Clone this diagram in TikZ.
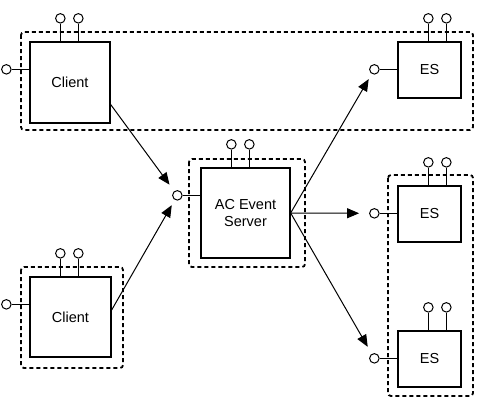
\documentclass[tikz,border=0pt]{standalone}
\usepackage{fontspec}
\setmainfont{Liberation Sans}
\usetikzlibrary{arrows.meta}

\tikzset{
  comp/.style={draw,line width=1.3pt,inner sep=2pt,align=center,
    font=\fontsize{14.5}{17}\selectfont},
  port/.style={draw,circle,line width=1pt,inner sep=0pt,minimum size=9.5pt,fill=white},
  group/.style={line width=1.8pt,dash pattern=on 4pt off 3pt,rounded corners=3pt},
  flow/.style={line width=1pt,-{Triangle[length=12pt,width=10pt]}}
}

\begin{document}
\begin{tikzpicture}[x=1pt,y=-1pt]
\useasboundingbox (0,0) rectangle (478,404);

%Dashed groups
\draw[group] (21,32) rectangle (473,130);
\draw[group] (21,267) rectangle (123,368);
\draw[group] (189,159) rectangle (305,267);
\draw[group] (388,175) rectangle (473,396);

%Nodes for the components
\foreach \n/\x/\y/\w/\h/\t in {cl1/70/82.5/80/81/Client,cl2/70.5/317/81/80/Client,srv/245.5/213/89/90/{AC Event\\Server},es1/429.5/70/63/56/ES,es2/429.5/214/63/56/ES,es3/429.5/359/63/56/ES}
  \node[comp,minimum width=\w,minimum height=\h] (\n) at (\x,\y) {\t};

%Ports - two on top, one on the left
\foreach \n in {cl1,cl2,srv,es1,es2,es3} {
  \node[port] (\n-p1) at ([shift={(31,-23)}]\n.north west) {};
  \node[port] (\n-p2) at ([shift={(49,-23)}]\n.north west) {};
  \node[port] (\n-in) at ([shift={(-23,28)}]\n.north west) {};
  \draw[line width=1pt] (\n-p1) -- (\n-p1 |- \n.north);
  \draw[line width=1pt] (\n-p2) -- (\n-p2 |- \n.north);
  \draw[line width=1pt] (\n-in) -- (\n-in -| \n.west);
}

%Connectors
\draw[flow,shorten >=8pt] ([yshift=-22]cl1.east) -- (srv-in);
\draw[flow,shorten >=6pt] ([yshift=7]cl2.east) -- (srv-in);
\draw[flow,shorten >=6pt] (srv.east) -- (es1-in);
\draw[flow,shorten >=10pt] (srv.east) -- (es2-in);
\draw[flow,shorten >=8pt] (srv.east) -- (es3-in);

\end{tikzpicture}
\end{document}
